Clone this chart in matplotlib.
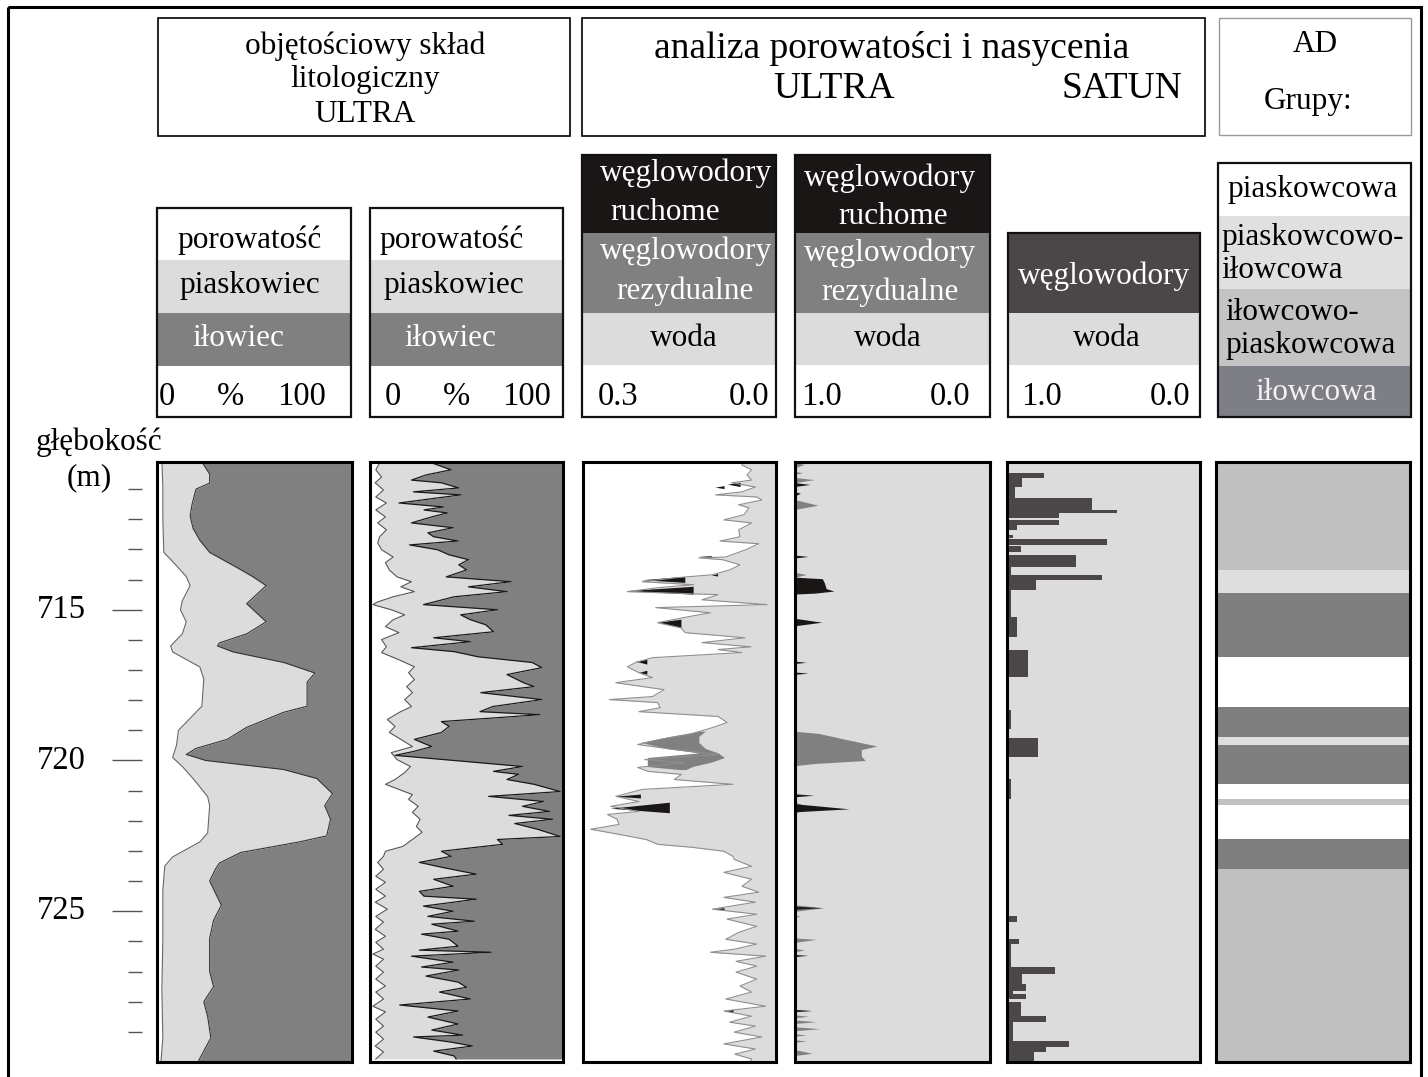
import numpy as np
import matplotlib
matplotlib.use('Agg')
import matplotlib.pyplot as plt
from matplotlib.patches import Rectangle

plt.rcParams['font.family'] = ['Liberation Serif', 'DejaVu Serif']

W, H = 1428, 1077
TOP_PX, BOT_PX = 462, 1062

LIGHT = '#dcdcdc'
MID = '#808080'
DARK = '#4b4749'
BLACK = '#1b1616'

# depth axis (m)
depth_top, depth_bot = 710.1, 730.0
major_ticks = [715, 720, 725]
minor_ticks = [711, 712, 713, 714, 716, 717, 718, 719, 721, 722, 723, 724, 726, 727, 728, 729]

# track 1 - lithology (ULTRA, smoothed), % of volume
phi1_depth = [710.1, 710.9, 712.0, 713.1, 713.4, 713.9, 714.2, 714.7, 715.0, 715.4, 715.8, 716.2, 716.4,
              716.9, 717.3, 718.2, 718.6, 719.0, 719.5, 719.9, 720.2, 720.6, 721.2, 721.5, 722.4, 722.7,
              723.2, 723.5, 724.3, 725.9, 727.6, 729.2, 730.0]
phi1 = [2.5, 3, 3, 3.5, 8, 15, 17, 13, 12, 15, 13, 7, 8, 22, 24, 23, 17, 11, 10, 8, 13, 18.5, 26, 27, 26,
        22, 8, 4, 3, 3, 2.5, 3, 2]
sand1_depth = [710.1, 710.5, 710.8, 711.0, 711.5, 711.9, 712.3, 712.7, 713.1, 713.6, 713.9, 714.2, 714.5,
               714.8, 715.1, 715.4, 715.8, 716.1, 716.2, 716.4, 716.75, 717.1, 717.4, 718.2, 718.4, 718.9,
               719.3, 719.6, 719.8, 720.0, 720.3, 720.6, 721.1, 721.5, 721.95, 722.5, 722.7, 723.05, 723.4,
               723.6, 724.0, 724.4, 724.8, 725.3, 725.9, 727.0, 727.5, 728.0, 728.5, 729.2, 730.0]
sand1 = [23, 27, 27, 20, 18, 17, 18.5, 22, 27, 41, 49, 56, 51, 46, 51, 56, 46, 32, 31, 39, 65, 81, 77, 77,
         65, 46, 36, 20, 15, 25, 65, 82, 90, 86, 89, 87, 73, 43, 32, 30, 27, 30, 33, 29, 27, 27, 29, 24, 26,
         27.6, 21]

# track 2 - lithology (ULTRA, full resolution), %
phi2_depth = [710.13, 710.36, 710.60, 710.79, 711.03, 711.26, 711.46, 711.69, 711.92, 712.12,
              712.35, 712.58, 712.78, 713.01, 713.25, 713.44, 713.68, 713.91, 714.07, 714.24,
              714.40, 714.57, 714.74, 714.83, 715.00, 715.17, 715.33, 715.56, 715.76, 715.99,
              716.23, 716.42, 716.66, 716.89, 717.09, 717.32, 717.55, 717.75, 717.98, 718.21,
              718.41, 718.64, 718.87, 719.07, 719.30, 719.54, 719.74, 719.97, 720.20, 720.40,
              720.63, 720.79, 720.96, 721.13, 721.29, 721.52, 721.72, 721.95, 722.19, 722.38,
              722.62, 722.85, 723.01, 723.18, 723.38, 723.61, 723.84, 724.04, 724.27, 724.50,
              724.70, 724.93, 725.17, 725.36, 725.60, 725.83, 726.03, 726.26, 726.42, 726.59,
              726.82, 727.02, 727.25, 727.48, 727.68, 727.91, 728.15, 728.34, 728.58, 728.81,
              729.01, 729.24, 729.47, 729.67, 729.90]
phi2 = [5, 3, 6, 2.7, 7, 3, 8.5, 3, 8, 4,
        8.5, 5, 4, 6, 12, 8, 10, 14, 21.5, 16,
        23, 12, 4, 1.5, 11, 18, 12, 8, 15, 6,
        8.5, 6, 15, 23, 20, 23, 19, 22, 18, 21.5,
        15, 9, 13, 10, 16, 22, 11, 14, 21, 18,
        13, 8, 15, 22, 20, 25, 22, 26, 24, 27,
        22, 17, 8, 7, 4, 7, 3, 8, 3, 8,
        2.7, 9, 3, 7, 2.7, 8, 3, 7, 1.5, 7,
        3, 7, 3, 8, 3, 7, 1.5, 8, 3, 7,
        3, 7, 2.7, 7, 3]
sand2_depth = [710.13, 710.36, 710.53, 710.70, 710.79, 710.96, 711.09, 711.19, 711.46, 711.59,
               711.69, 711.79, 711.92, 712.12, 712.28, 712.45, 712.58, 712.72, 712.85, 713.01,
               713.18, 713.34, 713.51, 713.68, 713.91, 714.07, 714.24, 714.40, 714.57, 714.83,
               715.00, 715.17, 715.33, 715.50, 715.73, 715.93, 716.06, 716.26, 716.39, 716.56,
               716.75, 716.92, 717.15, 717.42, 717.55, 717.75, 717.98, 718.21, 718.38, 718.48,
               718.58, 718.71, 718.87, 719.07, 719.30, 719.54, 719.70, 719.83, 720.03, 720.20,
               720.36, 720.46, 720.63, 720.79, 721.03, 721.19, 721.36, 721.52, 721.69, 721.82,
               721.95, 722.09, 722.28, 722.52, 722.62, 722.78, 723.01, 723.18, 723.38, 723.54,
               723.77, 723.94, 724.17, 724.34, 724.50, 724.60, 724.83, 725.00, 725.17, 725.33,
               725.43, 725.66, 725.76, 725.93, 726.16, 726.29, 726.36, 726.49, 726.69, 726.85,
               726.95, 727.15, 727.35, 727.52, 727.68, 727.91, 728.11, 728.31, 728.51, 728.74,
               728.94, 729.11, 729.17, 729.34, 729.47, 729.64, 729.80, 729.90]
sand2 = [32, 42, 29, 21.5, 37, 46, 22.5, 47, 15, 38,
         28, 40, 32, 21.5, 43, 30, 33, 45.6, 20.5, 35,
         41, 51, 46, 50, 39.5, 73, 51, 71, 43.6, 27.7,
         66, 47, 52, 60, 64, 33, 52, 21.5, 43.6, 56,
         84, 89, 71, 79.5, 85, 57.4, 89, 63.6, 57, 88,
         66, 37, 41, 37, 23, 32, 22.6, 13, 49, 79,
         64, 77, 71, 85, 98.5, 61.5, 90, 79, 93, 72,
         94.5, 75, 86.7, 98.5, 66, 68.7, 37, 42, 25.6, 37,
         55, 33, 43, 25.6, 28, 55, 27.7, 43, 30, 54,
         32, 45.6, 26.7, 41, 45.6, 25.6, 62.6, 21.5, 43, 26.7,
         46, 29, 45.6, 50, 36, 52, 15.4, 45.6, 30, 45.6,
         32, 48, 22.6, 42, 53, 33, 43.6, 44.6]

# track 3 - porosity (v/v), scale 0.3 .. 0.0
phi3_depth = [710.10, 710.20, 710.36, 710.53, 710.70, 710.79, 710.93, 711.09, 711.19, 711.26, 711.36,
              711.52, 711.62, 711.85, 712.02, 712.12, 712.35, 712.58, 712.72, 712.81, 713.01, 713.25,
              713.28, 713.34, 713.51, 713.68, 713.84, 713.94, 714.07, 714.17, 714.27, 714.40, 714.50,
              714.67, 714.83, 714.93, 715.10, 715.23, 715.43, 715.60, 715.76, 715.93, 716.09, 716.23,
              716.32, 716.42, 716.59, 716.75, 716.89, 717.09, 717.25, 717.42, 717.65, 717.88, 717.98,
              718.08, 718.25, 718.38, 718.54, 718.74, 718.91, 719.14, 719.30, 719.47, 719.64, 719.80,
              719.97, 720.07, 720.23, 720.36, 720.46, 720.63, 720.79, 720.96, 721.19, 721.36, 721.52,
              721.69, 721.79, 721.95, 722.12, 722.28, 722.45, 722.62, 722.78, 722.88, 723.01, 723.18,
              723.28, 723.51, 723.71, 723.94, 724.17, 724.37, 724.54, 724.70, 724.93, 725.10, 725.26,
              725.50, 725.70, 725.93, 726.09, 726.26, 726.36, 726.49, 726.66, 726.82, 727.02, 727.25,
              727.48, 727.68, 727.91, 728.15, 728.31, 728.48, 728.68, 728.81, 729.01, 729.17, 729.40,
              729.57, 729.74, 729.90, 730.00]
phi3 = [0.050, 0.053, 0.038, 0.045, 0.038, 0.069, 0.032, 0.053, 0.094, 0.030, 0.022,
        0.058, 0.042, 0.050, 0.081, 0.038, 0.058, 0.056, 0.087, 0.027, 0.047, 0.078,
        0.120, 0.083, 0.056, 0.072, 0.099, 0.156, 0.208, 0.128, 0.184, 0.231, 0.090,
        0.115, 0.014, 0.187, 0.102, 0.136, 0.184, 0.148, 0.141, 0.048, 0.115, 0.039,
        0.090, 0.053, 0.192, 0.218, 0.231, 0.213, 0.192, 0.249, 0.174, 0.192, 0.259,
        0.184, 0.180, 0.213, 0.090, 0.076, 0.099, 0.135, 0.180, 0.215, 0.157, 0.090,
        0.204, 0.142, 0.215, 0.199, 0.147, 0.158, 0.067, 0.208, 0.249, 0.213, 0.257,
        0.213, 0.262, 0.247, 0.244, 0.288, 0.244, 0.202, 0.184, 0.130, 0.081, 0.067,
        0.065, 0.038, 0.081, 0.038, 0.053, 0.027, 0.081, 0.032, 0.099, 0.030, 0.076,
        0.030, 0.058, 0.078, 0.030, 0.065, 0.102, 0.016, 0.062, 0.030, 0.062, 0.030,
        0.056, 0.038, 0.078, 0.016, 0.081, 0.038, 0.072, 0.032, 0.065, 0.022, 0.081,
        0.032, 0.064, 0.038, 0.040]
# residual hydrocarbons (grey) in track 3
resid3_depth = [719.03, 719.2, 719.4, 719.6, 719.75, 719.9, 720.05, 720.2, 720.3]
resid3_outer = [0.12, 0.165, 0.21, 0.17, 0.12, 0.20, 0.20, 0.20, 0.15]
resid3_inner = [0.11, 0.12, 0.12, 0.11, 0.09, 0.08, 0.10, 0.13, 0.14]
# movable hydrocarbons (black): top, tip, bottom depth, tip porosity, base porosity
mobile3_spikes = [(710.79, 710.85, 710.93, 0.075, 0.055), (710.90, 710.95, 711.00, 0.094, 0.080),
                  (713.22, 713.25, 713.30, 0.120, 0.100), (713.82, 713.86, 713.90, 0.100, 0.090),
                  (713.91, 714.02, 714.11, 0.208, 0.141), (714.24, 714.38, 714.50, 0.231, 0.128),
                  (715.33, 715.43, 715.60, 0.184, 0.147), (716.66, 716.72, 716.82, 0.218, 0.200),
                  (717.02, 717.10, 717.15, 0.213, 0.200), (721.13, 721.20, 721.26, 0.249, 0.210),
                  (721.40, 721.60, 721.75, 0.257, 0.165), (724.90, 724.93, 724.97, 0.099, 0.080),
                  (728.27, 728.31, 728.35, 0.081, 0.066)]

# track 4 - saturation (ULTRA), hydrocarbon fraction from the left edge
resid4_spikes = [(710.13, 710.20, 710.30, 0.05), (710.43, 710.47, 710.53, 0.04), (710.63, 710.70, 710.80, 0.10),
                 (711.36, 711.55, 711.69, 0.12), (713.77, 713.85, 713.94, 0.06), (715.30, 715.40, 715.55, 0.06),
                 (721.40, 721.60, 721.75, 0.10), (724.80, 724.90, 725.02, 0.15), (725.15, 725.18, 725.22, 0.03),
                 (725.90, 725.95, 726.05, 0.11), (726.25, 726.30, 726.36, 0.05), (728.45, 728.50, 728.55, 0.07),
                 (728.62, 728.68, 728.74, 0.11), (728.85, 728.91, 728.98, 0.13), (729.08, 729.12, 729.16, 0.06),
                 (729.28, 729.32, 729.36, 0.06), (729.60, 729.73, 729.80, 0.09)]
mobile4_spikes = [(710.80, 710.86, 710.93, 0.08), (711.10, 711.15, 711.25, 0.03), (713.20, 713.25, 713.30, 0.07),
                  (715.30, 715.43, 715.55, 0.14), (716.72, 716.76, 716.80, 0.06), (717.08, 717.12, 717.16, 0.07),
                  (721.12, 721.17, 721.22, 0.10), (721.45, 721.62, 721.72, 0.28), (724.85, 724.90, 724.95, 0.14),
                  (726.45, 726.48, 726.52, 0.07), (728.27, 728.31, 728.35, 0.09)]
resid4_depth = [719.03, 719.10, 719.30, 719.52, 719.64, 719.85, 720.00, 720.10, 720.17]
resid4_hc = [0.0, 0.12, 0.26, 0.42, 0.34, 0.34, 0.36, 0.10, 0.0]
mobile4_depth = [713.92, 713.97, 714.10, 714.30, 714.38, 714.45, 714.48]
mobile4_hc = [0.0, 0.14, 0.15, 0.16, 0.20, 0.10, 0.0]

# track 5 - SATUN hydrocarbon fraction
hc5_top = [710.46, 710.63, 710.93, 711.29, 711.69, 711.79, 712.02, 712.19, 712.52, 712.65, 712.88, 713.18,
           713.58, 713.84, 714.01, 714.34, 715.23, 715.89, 716.32, 718.31, 719.24, 720.63, 725.17, 725.93,
           726.09, 726.85, 727.09, 727.42, 727.65, 727.75, 728.01, 728.48, 728.68, 729.30, 729.50, 729.67]
hc5_bot = [710.63, 710.93, 711.29, 711.69, 711.79, 711.95, 712.19, 712.35, 712.62, 712.85, 713.08, 713.58,
           713.84, 714.01, 714.34, 715.23, 715.89, 716.32, 717.22, 718.97, 719.87, 721.29, 725.36, 726.09,
           726.85, 727.09, 727.42, 727.65, 727.75, 727.91, 728.48, 728.68, 729.30, 729.50, 729.67, 730.00]
hc5 = [0.19, 0.08, 0.04, 0.44, 0.57, 0.27, 0.27, 0.05, 0.03, 0.52, 0.07, 0.36,
       0.02, 0.49, 0.15, 0.02, 0.05, 0.01, 0.11, 0.02, 0.16, 0.02, 0.05, 0.06,
       0.02, 0.25, 0.08, 0.10, 0.03, 0.10, 0.07, 0.20, 0.03, 0.32, 0.20, 0.14]

# track 6 - AD groups
lith6_top = [710.1, 713.68, 714.44, 716.56, 718.21, 719.21, 719.47, 720.79, 721.29, 721.49, 722.62, 723.61]
lith6_bot = [713.68, 714.44, 716.56, 718.21, 719.21, 719.47, 720.79, 721.29, 721.49, 722.62, 723.61, 730.0]
lith6_group = ['il-pia', 'pia-il', 'il', 'pia', 'il', 'pia-il', 'il', 'pia', 'il-pia', 'pia', 'il', 'il-pia']
group_colors = {'pia': 'white', 'pia-il': '#dedede', 'il-pia': '#c0c0c0', 'il': '#7f7f7f'}


fig = plt.figure(figsize=(W / 100, H / 100), dpi=100)
bg = fig.add_axes([0, 0, 1, 1])
bg.set_xlim(0, W)
bg.set_ylim(H, 0)
bg.axis('off')

FS = 22.5   # header text
FS_BIG = 27
FS_NUM = 23.5


def box(x0, y0, x1, y1, fc='none', ec='black', lw=1.2, z=1):
    bg.add_patch(Rectangle((x0, y0), x1 - x0, y1 - y0, facecolor=fc, edgecolor=ec, linewidth=lw, zorder=z))


def label(x, y, s, size=FS, color='black', ha='center'):
    bg.text(x, y, s, fontsize=size, color=color, ha=ha, va='center', zorder=5)


def header(x0, x1, bands):
    for y0, y1, c in bands:
        box(x0, y0, x1, y1, fc=c, ec='none', z=2)
    box(x0, bands[0][0], x1, bands[-1][1], ec='#111111', lw=1.6, z=3)


# outer frame and title boxes
box(8, 7, 1421, 1085, lw=2.2)
box(158, 18, 570, 136, lw=1.2)
box(582, 18, 1205, 136, lw=1.2)
box(1219, 18, 1411, 135, ec='#9a9a9a', lw=1.0)
label(365, 46, 'objętościowy skład')
label(365, 80, 'litologiczny')
label(365, 114, 'ULTRA')
label(892, 49, 'analiza porowatości i nasycenia', size=FS_BIG)
label(834, 89, 'ULTRA', size=FS_BIG)
label(1122, 89, 'SATUN', size=FS_BIG)
label(1315, 45, 'AD')
label(1308, 102, 'Grupy:')

# column headers
for x0, x1 in [(157, 351), (370, 563)]:
    header(x0, x1, [(208, 260, 'white'), (260, 313, LIGHT), (313, 366, MID), (366, 417, 'white')])
label(250, 240, 'porowatość')
label(250, 285, 'piaskowiec')
label(238, 339, 'iłowiec', color='white')
label(167, 397, '0', size=FS_NUM)
label(231, 397, '%', size=FS_NUM)
label(302, 397, '100', size=FS_NUM)
label(452, 240, 'porowatość')
label(454, 285, 'piaskowiec')
label(450, 339, 'iłowiec', color='white')
label(393, 397, '0', size=FS_NUM)
label(456, 397, '%', size=FS_NUM)
label(527, 397, '100', size=FS_NUM)

for x0, x1 in [(582, 776), (795, 990)]:
    header(x0, x1, [(155, 233, BLACK), (233, 313, MID), (313, 365, LIGHT), (365, 417, 'white')])
label(686, 173, 'węglowodory', color='white')
label(665, 212, 'ruchome', color='white')
label(686, 251, 'węglowodory', color='white')
label(685, 291, 'rezydualne', color='white')
label(684, 339, 'woda')
label(618, 397, '0.3', size=FS_NUM)
label(749, 397, '0.0', size=FS_NUM)
label(890, 178, 'węglowodory', color='white')
label(893, 217, 'ruchome', color='white')
label(890, 253, 'węglowodory', color='white')
label(890, 292, 'rezydualne', color='white')
label(888, 339, 'woda')
label(822, 397, '1.0', size=FS_NUM)
label(950, 397, '0.0', size=FS_NUM)

header(1008, 1200, [(233, 313, DARK), (313, 365, LIGHT), (365, 417, 'white')])
label(1104, 276, 'węglowodory', color='white')
label(1107, 339, 'woda')
label(1042, 397, '1.0', size=FS_NUM)
label(1170, 397, '0.0', size=FS_NUM)

header(1218, 1411, [(163, 216, 'white'), (216, 289, '#e0e0e0'), (289, 366, '#c4c4c4'), (366, 417, '#7e7e86')])
label(1313, 189, 'piaskowcowa')
label(1221, 237, 'piaskowcowo-', ha='left')
label(1221, 270, 'iłowcowa', ha='left')
label(1225, 312, 'iłowcowo-', ha='left')
label(1225, 346, 'piaskowcowa', ha='left')
label(1316, 393, 'iłowcowa', color='#f2f2f2')

label(99, 442, 'głębokość')
label(89, 478, '(m)')


def track(x0, x1, xlim):
    ax = fig.add_axes([x0 / W, 1 - BOT_PX / H, (x1 - x0) / W, (BOT_PX - TOP_PX) / H])
    ax.set_xlim(*xlim)
    ax.set_ylim(depth_bot, depth_top)
    ax.set_xticks([])
    ax.set_yticks([])
    for sp in ax.spines.values():
        sp.set_linewidth(2.2)
        sp.set_zorder(10)
    return ax


# depth scale
axd = fig.add_axes([0, 1 - BOT_PX / H, 150 / W, (BOT_PX - TOP_PX) / H])
axd.set_xlim(0, 150)
axd.set_ylim(depth_bot, depth_top)
axd.axis('off')
axd.hlines(minor_ticks, 128, 142, color='#555555', lw=1)
axd.hlines(major_ticks, 112, 142, color='#555555', lw=1)
for d in major_ticks:
    axd.text(61, d, str(d), fontsize=FS_NUM, ha='center', va='center')

# track 1
ax1 = track(157, 352, (0, 100))
ax1.fill_betweenx(sand1_depth, sand1, 100, color=MID, lw=0)
ax1.fill_betweenx(sand1_depth, 0, sand1, color=LIGHT, lw=0)
ax1.fill_betweenx(phi1_depth, 0, phi1, color='white', lw=0)
ax1.plot(sand1, sand1_depth, color='#333333', lw=0.8)
ax1.plot(phi1, phi1_depth, color='#666666', lw=0.8)

# track 2
ax2 = track(370, 563, (0, 100))
ax2.fill_betweenx(sand2_depth, sand2, 100, color=MID, lw=0)
ax2.fill_betweenx(sand2_depth, 0, sand2, color=LIGHT, lw=0)
ax2.fill_betweenx(phi2_depth, 0, phi2, color='white', lw=0)
ax2.plot(sand2, sand2_depth, color='#1a1a1a', lw=0.9)
ax2.plot(phi2, phi2_depth, color='#555555', lw=0.8)

# track 3
ax3 = track(583, 776, (0.3, 0.0))
ax3.fill_betweenx(phi3_depth, 0, phi3, color=LIGHT, lw=0)
ax3.fill_betweenx(resid3_depth, resid3_inner, resid3_outer, color=MID, lw=0)
for dt, dm, db, tip, base in mobile3_spikes:
    ax3.fill([base, tip, base], [dt, dm, db], color=BLACK, lw=0)
ax3.plot(phi3, phi3_depth, color='#8f8f8f', lw=0.8)

# track 4
ax4 = track(795, 990, (0, 1))
ax4.set_facecolor(LIGHT)
ax4.fill_betweenx(resid4_depth, 0, resid4_hc, color=MID, lw=0)
ax4.fill_betweenx(mobile4_depth, 0, mobile4_hc, color=BLACK, lw=0)
for dt, dm, db, tip in resid4_spikes:
    ax4.fill([0, tip, 0], [dt, dm, db], color=MID, lw=0)
for dt, dm, db, tip in mobile4_spikes:
    ax4.fill([0, tip, 0], [dt, dm, db], color=BLACK, lw=0)

# track 5
ax5 = track(1007, 1200, (0, 1))
ax5.set_facecolor(LIGHT)
ax5.barh(hc5_top, hc5, height=np.subtract(hc5_bot, hc5_top), left=0, align='edge', color=DARK, lw=0)

# track 6
ax6 = track(1216, 1410, (0, 1))
ax6.barh(lith6_top, 1, height=np.subtract(lith6_bot, lith6_top), align='edge',
         color=[group_colors[g] for g in lith6_group], lw=0)

fig.savefig('out.png', dpi=100)
